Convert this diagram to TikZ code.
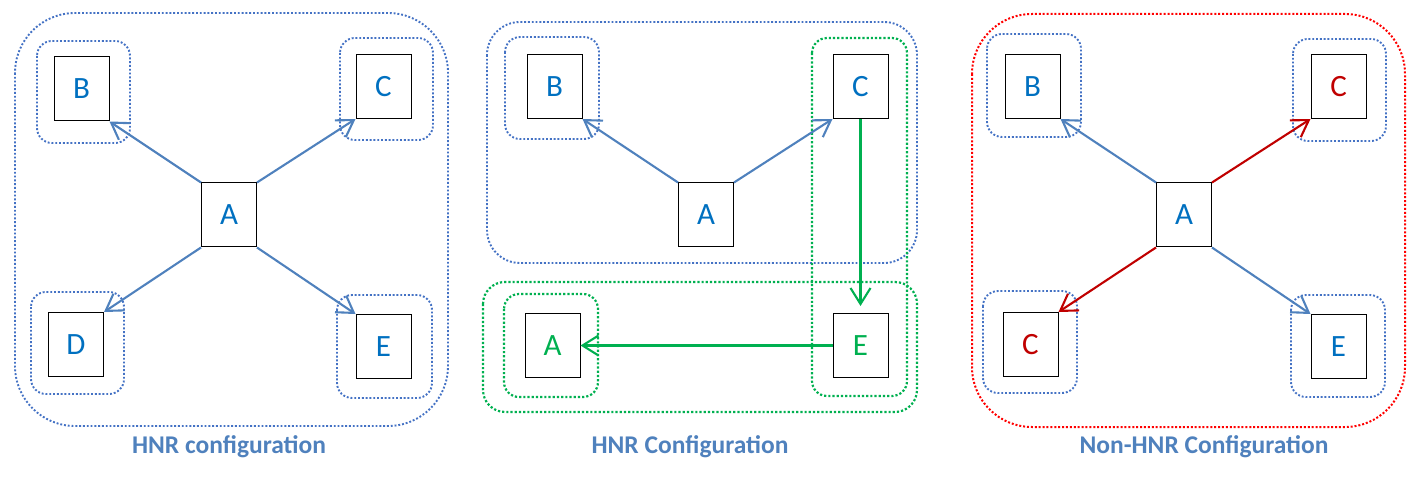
\documentclass[tikz,border=0pt]{standalone}
\usepackage{fontspec}
\setmainfont{Carlito}
\usetikzlibrary{arrows.meta}
\definecolor{txtblue}{HTML}{0070C0}
\definecolor{lnblue}{HTML}{4F81BD}
\definecolor{dotblue}{HTML}{4472C4}
\definecolor{grn}{HTML}{00B050}
\definecolor{dred}{HTML}{C00000}
\definecolor{bred}{HTML}{FF0000}
\tikzset{
  box/.style={draw=black, line width=1pt, minimum width=55pt, minimum height=64pt, inner sep=0pt, font=\fontsize{31}{32}\selectfont, text=txtblue},
  grp/.style={line width=1.9pt, dash pattern=on 1.9pt off 1.9pt, rounded corners=#1},
  grp/.default=15pt,
  conn/.style={line width=2.1pt, -{Straight Barb[length=16pt,width=20pt,line width=2.1pt]}},
  captxt/.style={font=\bfseries\fontsize{25.5}{27}\selectfont, text=lnblue}
}
\begin{document}
\begin{tikzpicture}[x=1pt,y=-1pt]
\path[use as bounding box] (0,0) rectangle (1422,481);
% ---------- Panel 1 ----------
\draw[grp=60pt, draw=dotblue] (15,13) rectangle (448,426);
\draw[grp, draw=dotblue] (37,41) rectangle (130,143);
\draw[grp, draw=dotblue] (340,38) rectangle (433,140);
\draw[grp, draw=dotblue] (31,292) rectangle (124,394);
\draw[grp, draw=dotblue] (337,295) rectangle (432,398);
\node[box] (a1) at (229,215) {A};
\node[box] (b1) at (81.5,89) {B};
\node[box] (c1) at (383.5,86.5) {C};
\node[box] (d1) at (76,344.5) {D};
\node[box] (e1) at (383.5,346.5) {E};
\draw[conn, draw=lnblue] (a1.north west) -- (b1.south east);
\draw[conn, draw=lnblue] (a1.north east) -- (c1.south west);
\draw[conn, draw=lnblue] (a1.south west) -- (d1.north east);
\draw[conn, draw=lnblue] (a1.south east) -- (e1.north west);
\node[captxt] (t1) at (229,447) {HNR configuration};
% ---------- Panel 2 ----------
\draw[grp=33pt, draw=dotblue] (487,22) rectangle (917,263);
\draw[grp, draw=dotblue] (505,37) rectangle (599,139);
\draw[grp=22pt, draw=grn, line width=2.2pt, dash pattern=on 2.2pt off 2pt] (483,282) rectangle (917,412);
\draw[grp, draw=grn, line width=2.2pt, dash pattern=on 2.2pt off 2pt] (812,38) rectangle (907,396);
\draw[grp, draw=grn, line width=2.2pt, dash pattern=on 2.2pt off 2pt] (504,294) rectangle (598,397);
\node[box] (a2) at (706,215) {A};
\node[box] (b2) at (554.5,86.5) {B};
\node[box] (c2) at (860.5,86.5) {C};
\node[box, text=grn] (a2b) at (552.5,345.5) {A};
\node[box, text=grn] (e2) at (860.5,345.5) {E};
\draw[conn, draw=lnblue] (a2.north west) -- (b2.south east);
\draw[conn, draw=lnblue] (a2.north east) -- (c2.south west);
\draw[conn, draw=grn, line width=2.4pt, shorten >=7pt] (c2.south) -- (e2.north);
\draw[conn, draw=grn, line width=2.4pt] (e2.west) -- (a2b.east);
\node[captxt] (t2) at (690,447) {HNR Configuration};
% ---------- Panel 3 ----------
\draw[grp=60pt, draw=bred, line width=2pt, dash pattern=on 2pt off 1.9pt] (972,14) rectangle (1405,427);
\draw[grp, draw=dotblue] (987,34) rectangle (1081,137);
\draw[grp, draw=dotblue] (1293,39) rectangle (1386,141);
\draw[grp, draw=dotblue] (983,291) rectangle (1077,393);
\draw[grp, draw=dotblue] (1291,295) rectangle (1385,397);
\node[box] (a3) at (1184,215) {A};
\node[box] (b3) at (1032.5,86.5) {B};
\node[box, text=dred] (c3) at (1338.5,86.5) {C};
\node[box, text=dred] (c3b) at (1030.5,344.5) {C};
\node[box] (e3) at (1338.5,346.5) {E};
\draw[conn, draw=lnblue] (a3.north west) -- (b3.south east);
\draw[conn, draw=dred] (a3.north east) -- (c3.south west);
\draw[conn, draw=dred] (a3.south west) -- (c3b.north east);
\draw[conn, draw=lnblue] (a3.south east) -- (e3.north west);
\node[captxt] (t3) at (1204,447) {Non-HNR Configuration};
\end{tikzpicture}
\end{document}
